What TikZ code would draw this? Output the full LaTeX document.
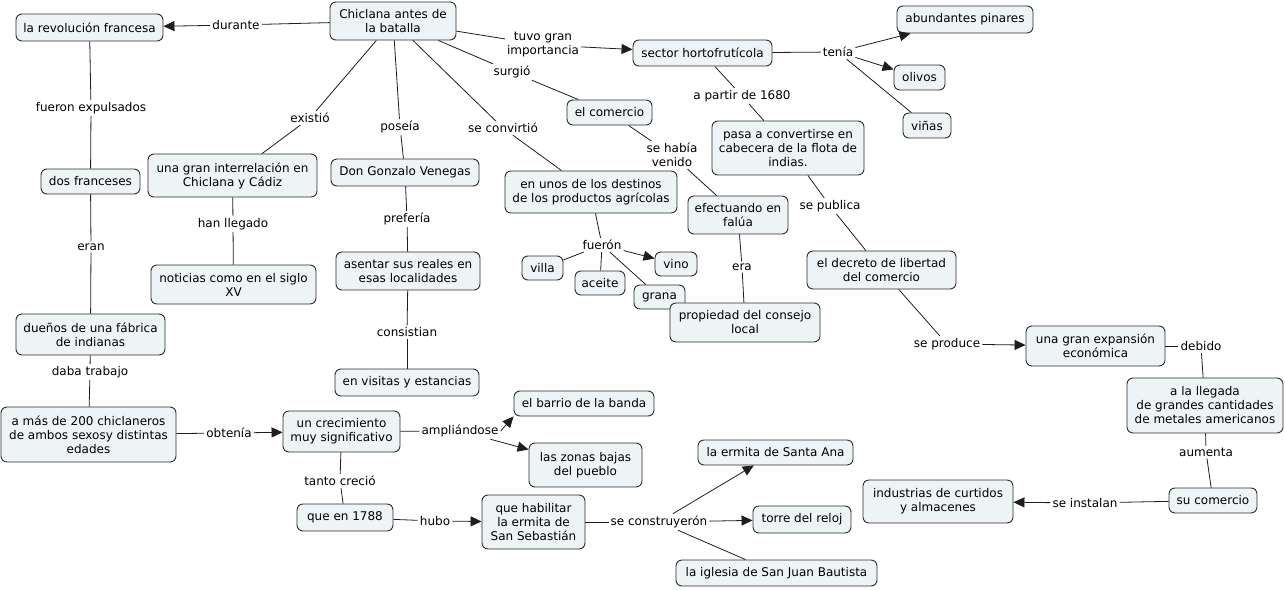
\documentclass[tikz,border=0pt]{standalone}
\usepackage{fontspec}
\setmainfont{DejaVu Sans}
\usetikzlibrary{arrows.meta}
\definecolor{cfill}{RGB}{238,243,246}
\definecolor{cedge}{RGB}{45,45,45}
\definecolor{cconn}{RGB}{30,30,30}
\begin{document}
\begin{tikzpicture}[x=1pt,y=-1pt,
  concept/.style={draw=cedge, fill=cfill, rounded corners=6pt, line width=0.9pt, align=center, inner sep=1pt, font=\fontsize{12}{14}\selectfont},
  sz/.style 2 args={minimum width=#1pt, minimum height=#2pt},
  lnk/.style={inner sep=2pt, align=center, font=\fontsize{12}{14}\selectfont},
  conn/.style={draw=cconn, line width=0.8pt},
  arr/.style={-{Triangle[length=11pt,width=10pt]}}]
\fill[white] (0,0) rectangle (1285,589);
\useasboundingbox (0,0) rectangle (1285,589);
% concepts
\node[concept,sz={126}{38}] (chic) at (393,21) {Chiclana antes de\\la batalla};
\node[concept,sz={147}{27}] (rev) at (89.5,27.5) {la revolución francesa};
\node[concept,sz={139}{26}] (sect) at (702.5,53) {sector hortofrutícola};
\node[concept,sz={136}{27}] (pin) at (965,19.5) {abundantes pinares};
\node[concept,sz={51}{25}] (oliv) at (919.5,77.5) {olivos};
\node[concept,sz={48}{25}] (vin) at (927,125.5) {viñas};
\node[concept,sz={85}{25}] (com) at (609.5,112.5) {el comercio};
\node[concept,sz={152}{54}] (pasa) at (788,148) {pasa a convertirse en\\cabecera de la flota de\\indias.};
\node[concept,sz={169}{43}] (inter) at (232.5,175.5) {una gran interrelación en\\Chiclana y Cádiz};
\node[concept,sz={148}{27}] (gonz) at (405,172.5) {Don Gonzalo Venegas};
\node[concept,sz={172}{42}] (dest) at (591,192) {en unos de los destinos\\de los productos agrícolas};
\node[concept,sz={99}{25}] (dosf) at (90.5,181.5) {dos franceses};
\node[concept,sz={100}{38}] (efec) at (738,215) {efectuando en\\falúa};
\node[concept,sz={165}{39}] (noti) at (233.5,284.5) {noticias como en el siglo\\XV};
\node[concept,sz={144}{38}] (asen) at (408,271) {asentar sus reales en\\esas localidades};
\node[concept,sz={41}{24}] (villa) at (542.5,268) {villa};
\node[concept,sz={50}{24}] (acei) at (600,283) {aceite};
\node[concept,sz={42}{24}] (vino) at (676,264) {vino};
\node[concept,sz={51}{24}] (gran) at (659.5,297) {grana};
\node[concept,sz={150}{39}] (prop) at (745,322.5) {propiedad del consejo\\local};
\node[concept,sz={149}{38}] (decr) at (881.5,270) {el decreto de libertad\\del comercio};
\node[concept,sz={149}{41}] (duen) at (90.5,334.5) {dueños de una fábrica\\de indianas};
\node[concept,sz={144}{27}] (visi) at (407,382.5) {en visitas y estancias};
\node[concept,sz={139}{40}] (expa) at (1095.5,346) {una gran expansión\\económica};
\node[concept,sz={156}{55}] (lleg) at (1205,405.5) {a la llegada\\de grandes cantidades\\de metales americanos};
\node[concept,sz={175}{55}] (amas) at (88.5,434.5) {a más de 200 chiclaneros\\de ambos sexosy distintas\\edades};
\node[concept,sz={117}{41}] (crec) at (341.5,431.5) {un crecimiento\\muy significativo};
\node[concept,sz={140}{25}] (barr) at (584,403.5) {el barrio de la banda};
\node[concept,sz={113}{44}] (zona) at (585.5,465) {las zonas bajas\\del pueblo};
\node[concept,sz={155}{25}] (sana) at (775.5,452.5) {la ermita de Santa Ana};
\node[concept,sz={150}{43}] (indu) at (938,501.5) {industrias de curtidos\\y almacenes};
\node[concept,sz={88}{25}] (suco) at (1213,500.5) {su comercio};
\node[concept,sz={96}{27}] (q178) at (345,517.5) {que en 1788};
\node[concept,sz={103}{54}] (habi) at (533.5,522) {que habilitar\\la ermita de\\San Sebastián};
\node[concept,sz={98}{27}] (torr) at (802,519.5) {torre del reloj};
\node[concept,sz={201}{26}] (igle) at (776.5,573) {la iglesia de San Juan Bautista};
% link labels
\node[lnk] (l1) at (236,25) {durante};
\node[lnk] (l2) at (543,45) {tuvo gran\\importancia};
\node[lnk] (l3) at (512,72) {surgió};
\node[lnk] (l4) at (310,118) {existió};
\node[lnk] (l5) at (400,127) {poseía};
\node[lnk] (l6) at (503,128) {se convirtió};
\node[lnk] (l7) at (838,52) {tenía};
\node[lnk] (l8) at (742,96) {a partir de 1680};
\node[lnk] (l9) at (672,155) {se había\\venido};
\node[lnk] (l10) at (830,206) {se publica};
\node[lnk] (l11) at (91,108) {fueron expulsados};
\node[lnk] (l12) at (233,224) {han llegado};
\node[lnk] (l13) at (407,219) {prefería};
\node[lnk] (l14) at (602,245) {fuerón};
\node[lnk] (l15) at (742,267) {era};
\node[lnk] (l16) at (91,247) {eran};
\node[lnk] (l17) at (407,332) {consistian};
\node[lnk] (l18) at (947,344) {se produce};
\node[lnk] (l19) at (1201,346) {debido};
\node[lnk] (l20) at (90,372) {daba trabajo};
\node[lnk] (l21) at (229,433) {obtenía};
\node[lnk] (l22) at (460,431) {ampliándose};
\node[lnk] (l23) at (1206,452) {aumenta};
\node[lnk] (l24) at (1085,503) {se instalan};
\node[lnk] (l25) at (340,481) {tanto creció};
\node[lnk] (l26) at (435,521) {hubo};
\node[lnk] (l27) at (659,522) {se construyerón};
% connectors
\draw[conn] (chic) -- (l1); \draw[conn,arr] (l1) -- (rev);
\draw[conn] (chic) -- (l2); \draw[conn,arr] (l2) -- (sect);
\draw[conn] (chic) -- (l3); \draw[conn] (l3) -- (com);
\draw[conn] (chic) -- (l4); \draw[conn] (l4) -- (inter);
\draw[conn] (chic) -- (l5); \draw[conn] (l5) -- (gonz);
\draw[conn] (chic) -- (l6); \draw[conn] (l6) -- (dest);
\draw[conn] (sect) -- (l7); \draw[conn,arr] (l7) -- (pin); \draw[conn,arr] (l7) -- (oliv); \draw[conn] (l7) -- (vin);
\draw[conn] (sect) -- (l8); \draw[conn] (l8) -- (pasa);
\draw[conn] (com) -- (l9); \draw[conn] (l9) -- (efec);
\draw[conn] (pasa) -- (l10); \draw[conn] (l10) -- (decr);
\draw[conn] (rev) -- (l11); \draw[conn] (l11) -- (dosf);
\draw[conn] (inter) -- (l12); \draw[conn] (l12) -- (noti);
\draw[conn] (gonz) -- (l13); \draw[conn] (l13) -- (asen);
\draw[conn] (dest) -- (l14); \draw[conn] (l14) -- (villa); \draw[conn] (l14) -- (acei); \draw[conn,arr] (l14) -- (vino); \draw[conn] (l14) -- (gran);
\draw[conn] (efec) -- (l15); \draw[conn] (l15) -- (prop);
\draw[conn] (dosf) -- (l16); \draw[conn] (l16) -- (duen);
\draw[conn] (asen) -- (l17); \draw[conn] (l17) -- (visi);
\draw[conn] (decr) -- (l18); \draw[conn,arr] (l18) -- (expa);
\draw[conn] (expa) -- (l19); \draw[conn] (l19) -- (lleg);
\draw[conn] (duen) -- (l20); \draw[conn] (l20) -- (amas);
\draw[conn] (amas) -- (l21); \draw[conn,arr] (l21) -- (crec);
\draw[conn] (crec) -- (l22); \draw[conn,arr] (l22.east) -- (barr.south west); \draw[conn,arr] (l22) -- (zona);
\draw[conn] (lleg) -- (l23); \draw[conn] (l23) -- (suco);
\draw[conn] (suco) -- (l24); \draw[conn,arr] (l24) -- (indu);
\draw[conn] (crec) -- (l25); \draw[conn] (l25) -- (q178);
\draw[conn] (q178) -- (l26); \draw[conn,arr] (l26) -- (habi);
\draw[conn] (habi) -- (l27); \draw[conn,arr] (l27) -- (sana); \draw[conn,arr] (l27) -- (torr); \draw[conn] (l27) -- (igle);
\end{tikzpicture}
\end{document}
